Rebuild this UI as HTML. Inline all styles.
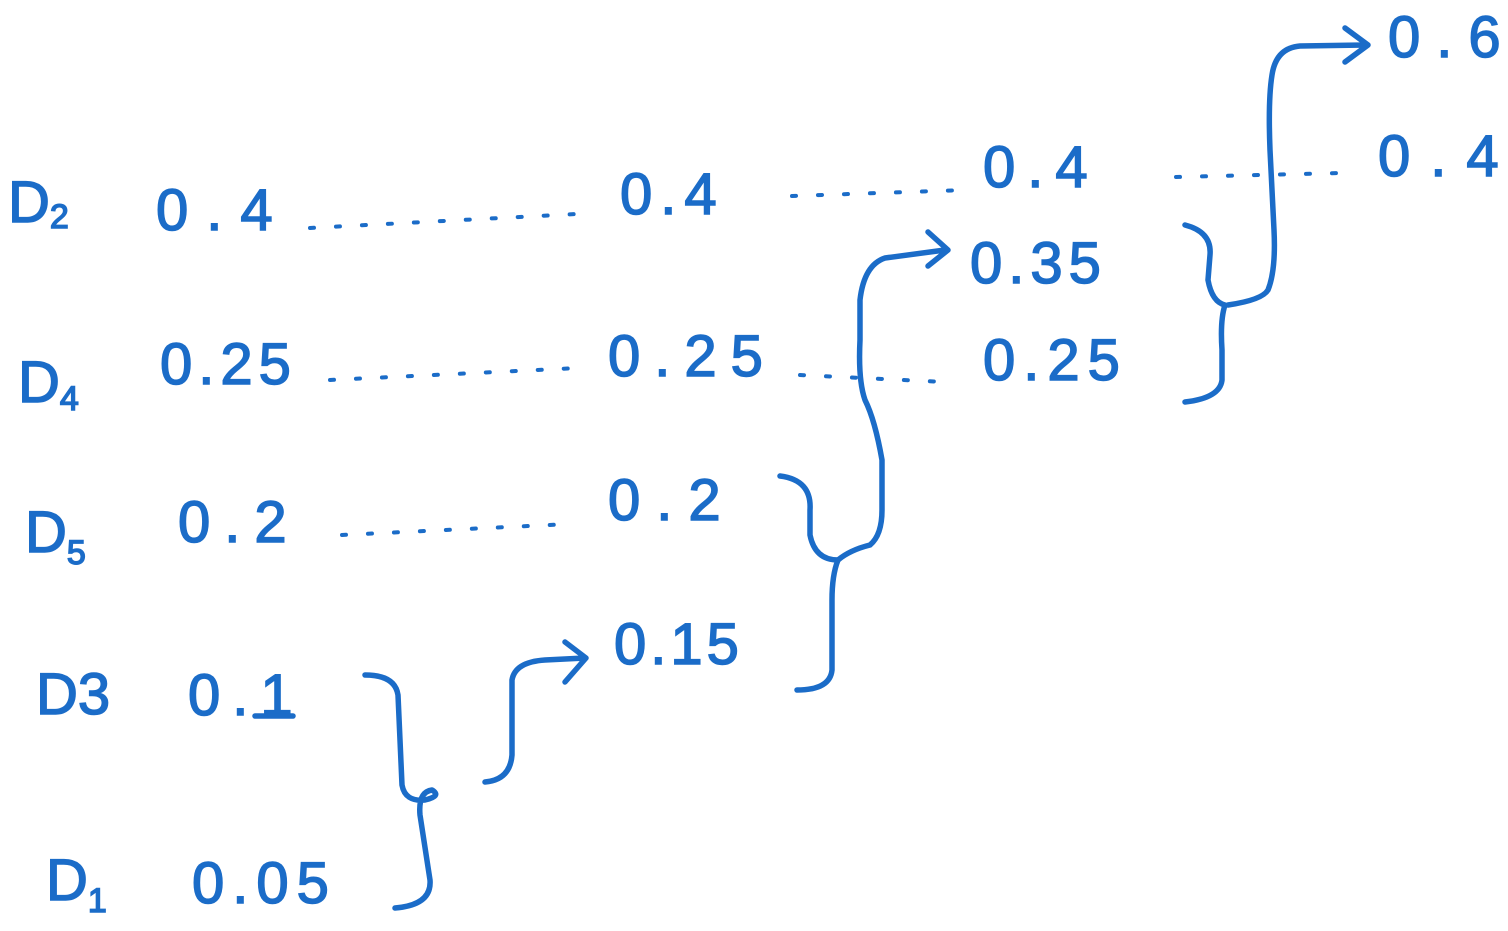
<!DOCTYPE html>
<html><head><meta charset="utf-8"><style>
html,body{margin:0;padding:0;background:#fff;}
svg{display:block}
text{font-family:"Liberation Sans",sans-serif;fill:#1b6cc8;font-size:58px;stroke:#1b6cc8;stroke-width:1.5}
.s{font-size:34px}
path,line{stroke:#1b6cc8;stroke-width:5.5;fill:none;stroke-linecap:round;stroke-linejoin:round}
.d{stroke-dasharray:4 22;stroke-width:4}
</style></head><body>
<svg width="1508" height="931" viewBox="0 0 1508 931">
<text x="8" y="222">D<tspan class="s" dy="6">2</tspan></text>
<text x="18" y="402">D<tspan class="s" dy="8">4</tspan></text>
<text x="25" y="552">D<tspan class="s" dy="12">5</tspan></text>
<text x="36" y="714">D3</text>
<text x="46" y="900">D<tspan class="s" dy="12">1</tspan></text>

<text x="156" y="230" letter-spacing="18">0.4</text>
<text x="160" y="384" letter-spacing="6">0.25</text>
<text x="178" y="542" letter-spacing="14">0.2</text>
<text x="188" y="715" letter-spacing="12">0.1</text>
<line x1="255" y1="716" x2="293" y2="716"/>
<text x="192" y="903" letter-spacing="8">0.05</text>

<text x="620" y="214" letter-spacing="8">0.4</text>
<text x="608" y="376" letter-spacing="14">0.25</text>
<text x="608" y="520" letter-spacing="16">0.2</text>
<text x="614" y="664" letter-spacing="4">0.15</text>

<text x="983" y="187" letter-spacing="12">0.4</text>
<text x="970" y="283" letter-spacing="6">0.35</text>
<text x="983" y="380" letter-spacing="8">0.25</text>

<text x="1388" y="57" letter-spacing="16">0.6</text>
<text x="1378" y="176" letter-spacing="20">0.4</text>

<line class="d" x1="310" y1="228" x2="595" y2="213"/>
<line class="d" x1="792" y1="196" x2="965" y2="190"/>
<line class="d" x1="1176" y1="177" x2="1340" y2="173"/>
<line class="d" x1="330" y1="380" x2="578" y2="368"/>
<line class="d" x1="800" y1="375" x2="945" y2="382"/>
<line class="d" x1="342" y1="535" x2="570" y2="524"/>

<path d="M365 675 Q395 675 398 695 L402 785 Q405 802 425 800 Q442 796 432 790 Q418 792 420 815 L430 880 Q432 905 395 908"/>
<path d="M485 782 Q510 780 512 755 L512 680 Q515 662 545 660 L585 658 M565 642 L586 658 L565 682"/>

<path d="M780 476 Q812 480 810 510 L810 535 Q815 560 838 560 Q832 575 832 600 L832 670 Q830 690 797 690"/>
<path d="M838 560 Q850 550 870 545 Q882 535 882 510 L882 460 Q875 420 865 400 Q858 380 860 340 L860 300 Q864 265 885 258 L945 250 M928 232 L948 250 L928 266"/>

<path d="M1185 225 Q1212 232 1210 255 L1208 280 Q1212 302 1225 305 Q1220 320 1222 350 L1222 380 Q1220 398 1185 402"/>
<path d="M1228 305 Q1262 300 1268 290 Q1276 270 1274 230 L1270 150 Q1268 100 1272 75 Q1276 48 1300 46 L1365 45 M1345 28 L1368 45 L1345 62"/>
</svg>
</body></html>
